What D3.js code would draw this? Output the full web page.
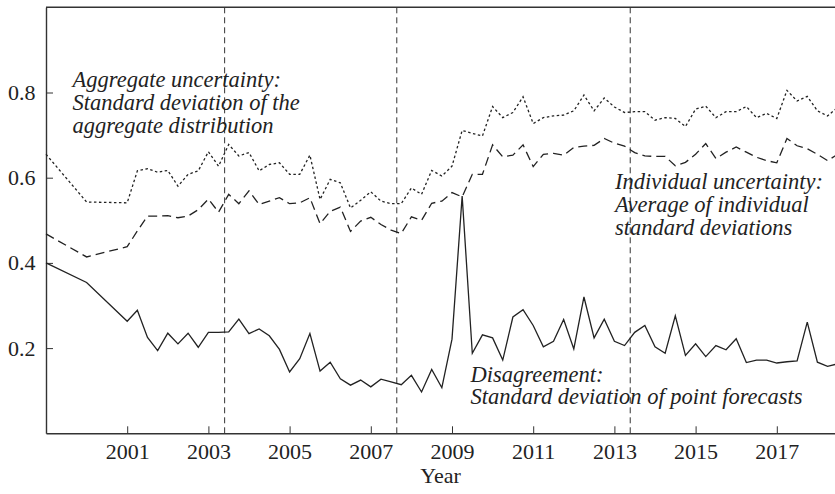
<!DOCTYPE html>
<html>
<head>
<meta charset="utf-8">
<script src="https://cdn.jsdelivr.net/npm/d3@7"></script>
<style>
  body { margin: 0; background: #fff; }
  svg { display: block; }
</style>
</head>
<body>
<div id="chart-area"></div>
<script>
// Survey time points: annual to 2000, quarterly afterwards
const dates = [
	1999, 2000,
	2001, 2001.25, 2001.5, 2001.75,
	2002, 2002.25, 2002.5, 2002.75,
	2003, 2003.25, 2003.5, 2003.75,
	2004, 2004.25, 2004.5, 2004.75,
	2005, 2005.25, 2005.5, 2005.75,
	2006, 2006.25, 2006.5, 2006.75,
	2007, 2007.25, 2007.5, 2007.75,
	2008, 2008.25, 2008.5, 2008.75,
	2009, 2009.25, 2009.5, 2009.75,
	2010, 2010.25, 2010.5, 2010.75,
	2011, 2011.25, 2011.5, 2011.75,
	2012, 2012.25, 2012.5, 2012.75,
	2013, 2013.25, 2013.5, 2013.75,
	2014, 2014.25, 2014.5, 2014.75,
	2015, 2015.25, 2015.5, 2015.75,
	2016, 2016.25, 2016.5, 2016.75,
	2017, 2017.25, 2017.5, 2017.75,
	2018, 2018.25, 2018.5
]

// Standard deviation of the aggregate distribution (dotted)
const aggregate = [
	0.655, 0.543,
	0.541, 0.616, 0.621, 0.613,
	0.617, 0.580, 0.608, 0.616,
	0.661, 0.627, 0.678, 0.651,
	0.659, 0.616, 0.631, 0.635,
	0.608, 0.608, 0.653, 0.549,
	0.596, 0.588, 0.529, 0.547,
	0.567, 0.545, 0.539, 0.539,
	0.576, 0.561, 0.617, 0.604,
	0.627, 0.711, 0.704, 0.698,
	0.767, 0.741, 0.753, 0.790,
	0.727, 0.741, 0.745, 0.747,
	0.757, 0.794, 0.757, 0.787,
	0.766, 0.753, 0.755, 0.755,
	0.735, 0.741, 0.739, 0.720,
	0.761, 0.768, 0.741, 0.755,
	0.755, 0.767, 0.741, 0.751,
	0.739, 0.805, 0.780, 0.791,
	0.757, 0.745, 0.765
]

// Average of individual standard deviations (dashed)
const individual = [
	0.468, 0.414,
	0.438, 0.475, 0.510, 0.510,
	0.511, 0.506, 0.510, 0.525,
	0.550, 0.519, 0.561, 0.539,
	0.569, 0.537, 0.545, 0.553,
	0.539, 0.541, 0.553, 0.492,
	0.521, 0.531, 0.474, 0.498,
	0.507, 0.490, 0.477, 0.469,
	0.508, 0.500, 0.540, 0.545,
	0.565, 0.555, 0.608, 0.608,
	0.677, 0.649, 0.653, 0.677,
	0.626, 0.655, 0.657, 0.653,
	0.671, 0.674, 0.676, 0.692,
	0.681, 0.674, 0.659, 0.651,
	0.650, 0.650, 0.628, 0.636,
	0.655, 0.680, 0.645, 0.660,
	0.672, 0.660, 0.648, 0.640,
	0.635, 0.692, 0.675, 0.668,
	0.655, 0.640, 0.655
]

// Standard deviation of point forecasts (solid)
const disagreement = [
	0.400, 0.354,
	0.263, 0.289, 0.225, 0.194,
	0.235, 0.210, 0.235, 0.202,
	0.237, 0.237, 0.238, 0.268,
	0.234, 0.245, 0.229, 0.197,
	0.144, 0.175, 0.234, 0.146,
	0.167, 0.128, 0.113, 0.125,
	0.109, 0.127, 0.121, 0.114,
	0.136, 0.097, 0.150, 0.107,
	0.221, 0.557, 0.188, 0.231,
	0.224, 0.172, 0.273, 0.290,
	0.253, 0.203, 0.216, 0.267,
	0.198, 0.320, 0.224, 0.268,
	0.216, 0.206, 0.237, 0.253,
	0.203, 0.188, 0.276, 0.183,
	0.210, 0.180, 0.206, 0.196,
	0.222, 0.166, 0.172, 0.172,
	0.165, 0.168, 0.170, 0.261,
	0.167, 0.157, 0.163
]

const eventDates = [2003.4, 2007.64, 2013.39]
const xTicks = [2001, 2003, 2005, 2007, 2009, 2011, 2013, 2015, 2017]
const yTicks = [0.2, 0.4, 0.6, 0.8]

const canvas = { height: 494, width: 835 }
const margin = { left: 46, top: 7.3, bottom: 60.7 }
const plot = {
	height: canvas.height - margin.top - margin.bottom,
	width: 19.5 * 40.6
}
const ink = '#222'
const font = '"Liberation Serif", "Times New Roman", serif'

let svg = d3.select('#chart-area')
	.append('svg')
		.attr('height', canvas.height)
		.attr('width', canvas.width)
let g = svg.append('g')
	.attr('transform', `translate(${margin.left}, ${margin.top})`)

// Scales
let x = d3.scaleLinear()
	.domain([1999, 2018.5])
	.range([0, plot.width])
let y = d3.scaleLinear()
	.domain([0, 1])
	.range([plot.height, 0])

// Frame top line
g.append('line')
	.attr('x1', 0).attr('x2', canvas.width)
	.attr('y1', 0).attr('y2', 0)
	.attr('stroke', '#333')
	.attr('stroke-width', 1.4)

// Axes (ticks point inward)
let xAxis = d3.axisBottom(x)
	.tickValues(xTicks)
	.tickSize(-7)
	.tickSizeOuter(0)
	.tickPadding(10.5)
	.tickFormat(d3.format('d'))
let xG = g.append('g')
	.attr('transform', `translate(0, ${plot.height})`)
	.call(xAxis)

let yAxis = d3.axisLeft(y)
	.tickValues(yTicks)
	.tickSize(-7)
	.tickSizeOuter(0)
	.tickPadding(10.5)
	.tickFormat(d3.format('.1f'))
let yG = g.append('g')
	.call(yAxis)

;[xG, yG].forEach(a => {
	a.attr('font-family', font).attr('font-size', 22)
	a.select('.domain').attr('stroke', '#333').attr('stroke-width', 1.4)
	a.selectAll('.tick line').attr('stroke', '#333').attr('stroke-width', 1)
	a.selectAll('.tick text').attr('fill', ink)
})

// Event markers
g.selectAll('.event')
	.data(eventDates)
	.enter()
	.append('line')
		.attr('class', 'event')
		.attr('x1', d => x(d)).attr('x2', d => x(d))
		.attr('y1', 0).attr('y2', plot.height)
		.attr('stroke', '#333')
		.attr('stroke-width', 1)
		.attr('stroke-dasharray', '6,4')

// Series
const series = [
	{ values: aggregate, dash: '2.5,2.5' },
	{ values: individual, dash: '9,5' },
	{ values: disagreement, dash: null }
]
let line = d3.line()
	.x(d => x(d[0]))
	.y(d => y(d[1]))
series.forEach(s => {
	g.append('path')
		.datum(dates.map((t, i) => [t, s.values[i]]))
		.attr('fill', 'none')
		.attr('stroke', ink)
		.attr('stroke-width', 1.3)
		.attr('stroke-dasharray', s.dash)
		.attr('d', line)
})

// Annotations
const notes = [
	{ x: 72.5, y: 87, lines: ['Aggregate uncertainty:', 'Standard deviation of the', 'aggregate distribution'] },
	{ x: 615, y: 189, lines: ['Individual uncertainty:', 'Average of individual', 'standard deviations'] },
	{ x: 470.5, y: 381.5, lines: ['Disagreement:', 'Standard deviation of point forecasts'] }
]
notes.forEach(n => {
	let t = svg.append('text')
		.attr('font-family', font)
		.attr('font-size', 22.5)
		.attr('font-style', 'italic')
		.attr('fill', ink)
	n.lines.forEach((l, i) => {
		t.append('tspan')
			.attr('x', n.x)
			.attr('y', n.y + i * 22.8)
			.text(l)
	})
})

// Axis label
svg.append('text')
	.attr('x', margin.left + (canvas.width - margin.left) / 2)
	.attr('y', 483)
	.attr('text-anchor', 'middle')
	.attr('font-family', font)
	.attr('font-size', 22)
	.attr('fill', ink)
	.text('Year')
</script>
</body>
</html>
